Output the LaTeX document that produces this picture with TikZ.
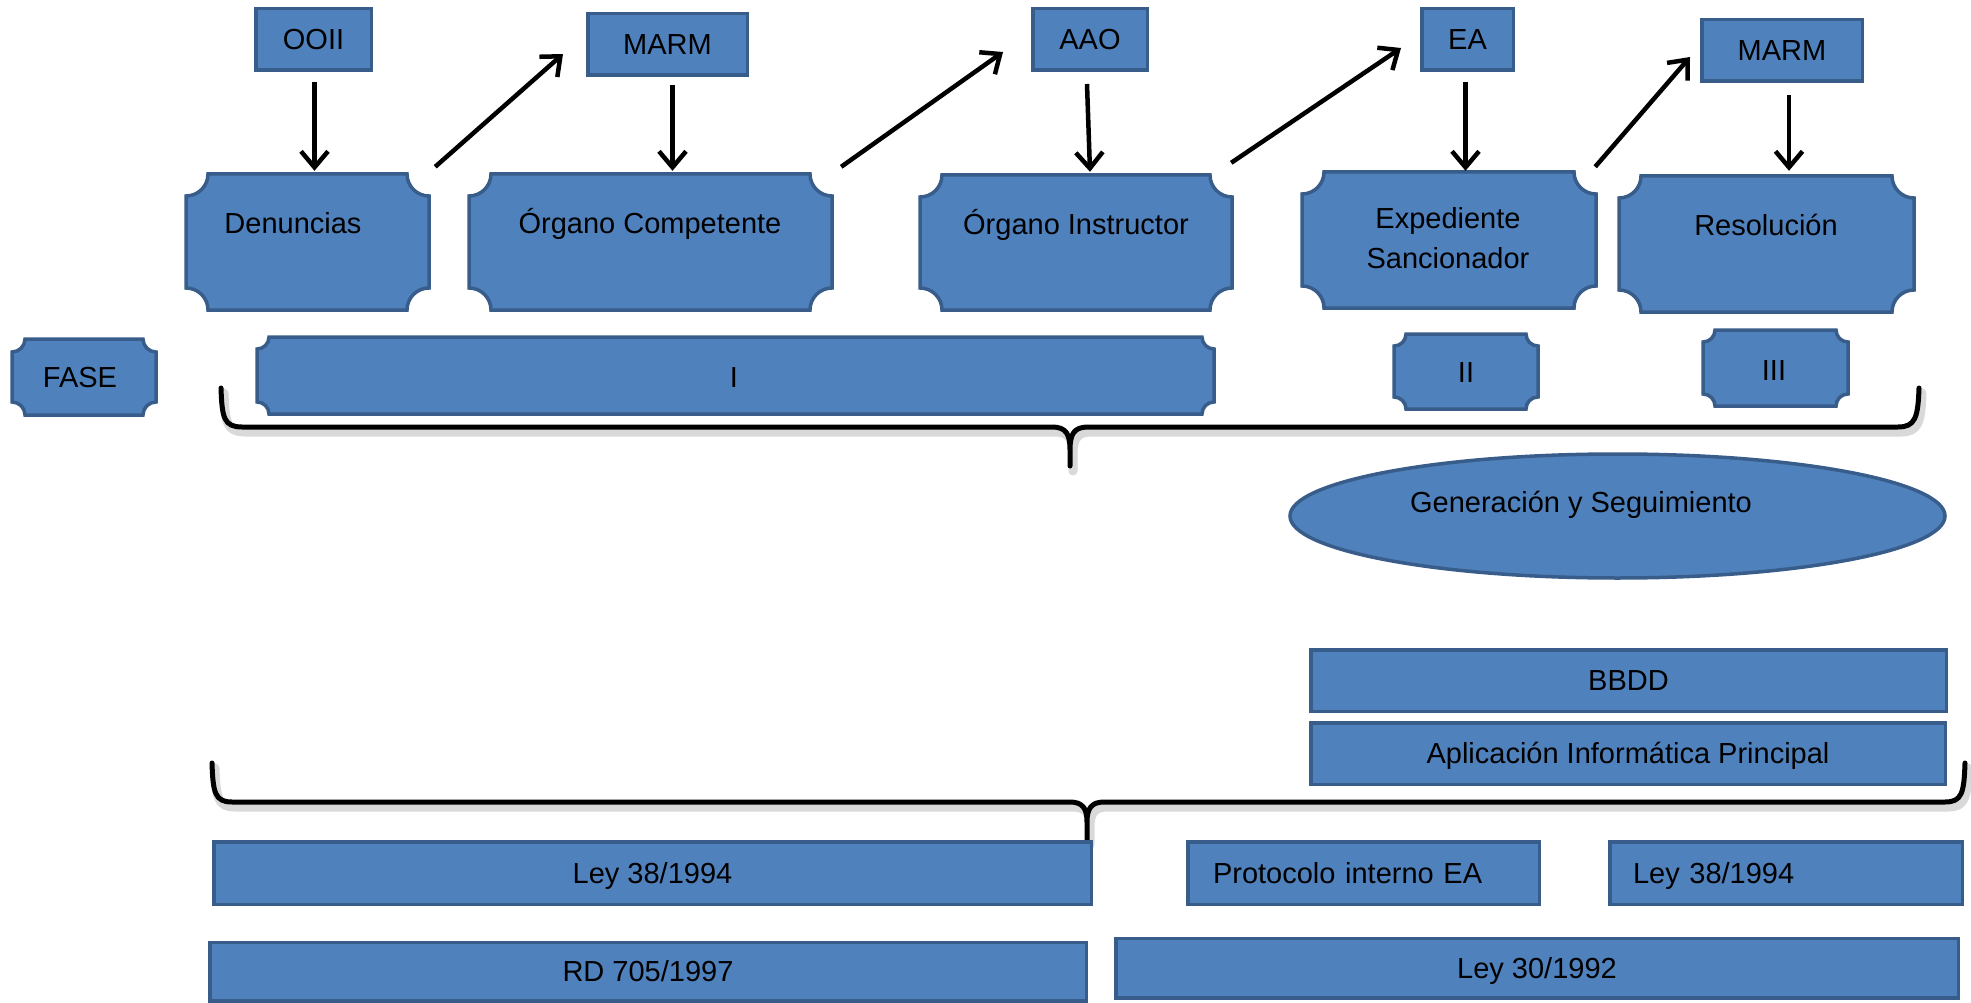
\documentclass[tikz,border=0pt]{standalone}
\usepackage{fontspec}
\setmainfont{Liberation Sans}
\usetikzlibrary{arrows.meta,calc,shapes.geometric}
\definecolor{boxfill}{HTML}{4F81BD}
\definecolor{boxline}{HTML}{385D8A}

% plaque: rectangle with concave quarter-circle corners
% #1 name, #2 x1, #3 y1, #4 x2, #5 y2, #6 notch radius
\newcommand\plaquebox[6]{%
  \path[plq] (#2+#6,#3) -- (#4-#6,#3) arc[start angle=180,end angle=90,radius=#6]
    -- (#4,#5-#6) arc[start angle=270,end angle=180,radius=#6]
    -- (#2+#6,#5) arc[start angle=0,end angle=-90,radius=#6]
    -- (#2,#3+#6) arc[start angle=90,end angle=0,radius=#6] -- cycle;
  \node[anchorbox, minimum width={#4-#2}, minimum height={#5-#3}] (#1) at ({(#2+#4)/2},{(#3+#5)/2}) {};
}

\begin{document}
\begin{tikzpicture}[x=1pt,y=-1pt,
  every node/.style={font=\fontsize{29}{40}\selectfont, text=black},
  rbox/.style={rectangle, draw=boxline, fill=boxfill, line width=3.5pt, inner sep=0pt,
               text height=20.8pt, text depth=0pt},
  plq/.style={draw=boxline, fill=boxfill, line width=3.5pt},
  anchorbox/.style={rectangle, draw=none, inner sep=0pt},
  txt/.style={inner sep=0pt, anchor=base, align=center},
  conn/.style={draw=black, line width=4.5pt, -{Straight Barb[length=16pt,width=27pt]}},
  brace/.style={draw=black, line width=5pt, line join=round, line cap=round},
  braceshade/.style={draw=black!15, line width=9pt, line join=round, line cap=round}]

\useasboundingbox (0,0) rectangle (1971,1003);

% ---- actors on top ----
\node[rbox, minimum width=115.5pt, minimum height=61.5pt] (ooii)  at (313.5,39.5) {OOII};
\node[rbox, minimum width=159.5pt, minimum height=61.5pt] (marm1) at (667.5,44.5) {MARM};
\node[rbox, minimum width=114.5pt, minimum height=61.5pt] (aao)   at (1090,39.5) {AAO};
\node[rbox, minimum width=91.5pt,  minimum height=61.5pt] (ea)    at (1467.5,39.5) {EA};
\node[rbox, minimum width=160.5pt, minimum height=61.5pt] (marm2) at (1782,50.5) {MARM};

% ---- process steps ----
\plaquebox{den}{186}{174}{429}{310}{22}
\plaquebox{oc}{469}{174}{832}{310}{22}
\plaquebox{oi}{920}{175}{1232}{310}{22}
\plaquebox{exp}{1302}{172}{1596}{308}{22}
\plaquebox{res}{1619}{176}{1914}{312}{22}
\node[txt] (den-t) at (293,234) {Denuncias};
\node[txt] (oc-t)  at (650,234) {Órgano Competente};
\node[txt] (oi-t)  at (1076,235) {Órgano Instructor};
\node[txt] (exp-t) at (1448,269) {Expediente\\Sancionador};
\node[txt] (res-t) at (1766,236) {Resolución};

% ---- phases ----
\plaquebox{fase}{12}{339}{156}{415}{13}
\plaquebox{f1}{257}{337}{1214}{414}{12}
\plaquebox{f2}{1394}{334}{1538}{409}{12}
\plaquebox{f3}{1703}{330}{1848}{406}{12}
\node[txt] (fase-t) at (80,387) {FASE};
\node[txt] (f1-t)   at (734,387) {I};
\node[txt] (f2-t)   at (1466,382) {II};
\node[txt] (f3-t)   at (1774,380) {III};

% ---- flow arrows ----
\draw[conn] ($(ooii.south)+(1,10)$) -- ($(ooii.south |- den.north)+(1,-3)$);
\draw[conn] ($(marm1.south)+(5,8)$) -- ($(marm1.south |- oc.north)+(5,-3)$);
\draw[conn] ($(aao.south)+(-3,12)$) -- ($(aao.south |- oi.north)+(0,-3)$);
\draw[conn] ($(ea.south)+(-2,10)$) -- ($(ea.south |- exp.north)+(-2,-1)$);
\draw[conn] ($(marm2.south)+(7,12)$) -- ($(marm2.south |- res.north)+(7,-5)$);
\draw[conn] ($(den.north east)+(6,-7)$) -- ($(marm1.west)+(-23,9.5)$);
\draw[conn] ($(oc.north east)+(9,-7)$) -- ($(aao.west)+(-28,12.5)$);
\draw[conn] ($(oi.north east)+(-1,-12)$) -- ($(ea.west)+(-19,8.5)$);
\draw[conn] ($(exp.north east)+(-1,-5)$) -- ($(marm2.west)+(-10,6.5)$);

% ---- upper brace ----
\begin{scope}[shift={(3,5)}]
\draw[braceshade] (221,388) .. controls (222,418) and (224,427) .. (242,427) -- (1052,427)
  .. controls (1066,427) and (1070,434) .. (1070,450) -- (1070,466) -- (1070,450)
  .. controls (1070,434) and (1074,427) .. (1088,427) -- (1898,427)
  .. controls (1915,427) and (1918,418) .. (1919,388);
\end{scope}
\draw[brace] (221,388) .. controls (222,418) and (224,427) .. (242,427) -- (1052,427)
  .. controls (1066,427) and (1070,434) .. (1070,450) -- (1070,466) -- (1070,450)
  .. controls (1070,434) and (1074,427) .. (1088,427) -- (1898,427)
  .. controls (1915,427) and (1918,418) .. (1919,388);

% ---- system ----
\node[ellipse, draw=boxline, fill=boxfill, line width=3.5pt, inner sep=0pt,
      minimum width=655pt, minimum height=124pt] (gen) at (1617.5,516) {};
\node[txt] (gen-t) at (1581,512) {Generación y Seguimiento};
\node[rbox, minimum width=635.5pt, minimum height=61.5pt] (bbdd) at (1628.5,680.5) {BBDD};
\node[rbox, minimum width=634.5pt, minimum height=61.5pt] (apl)  at (1628,753.5) {Aplicación Informática Principal};

% ---- lower brace ----
\begin{scope}[shift={(3,5)}]
\draw[braceshade] (212,763) .. controls (213,793) and (215,802) .. (232,802) -- (1070,802)
  .. controls (1083,802) and (1087,809) .. (1087,822) -- (1087,840) -- (1087,822)
  .. controls (1087,809) and (1091,802) .. (1104,802) -- (1945,802)
  .. controls (1962,802) and (1964,793) .. (1965,763);
\end{scope}
\draw[brace] (212,763) .. controls (213,793) and (215,802) .. (232,802) -- (1070,802)
  .. controls (1083,802) and (1087,809) .. (1087,822) -- (1087,840) -- (1087,822)
  .. controls (1087,809) and (1091,802) .. (1104,802) -- (1945,802)
  .. controls (1962,802) and (1964,793) .. (1965,763);

% ---- legal framework ----
\node[rbox, minimum width=877.5pt, minimum height=62.5pt] (ley38a) at (652.5,873) {Ley 38/1994};
\node[rbox, minimum width=351.5pt, minimum height=62.5pt, inner xsep=25.25pt,
      text width=301pt, align=left] (prot) at (1363.5,873) {Protocolo interno EA};
\node[rbox, minimum width=352.5pt, minimum height=62.5pt, inner xsep=23.25pt,
      text width=306pt, align=left] (ley38b) at (1786,873) {Ley 38/1994};
\node[rbox, minimum width=876.5pt, minimum height=58.5pt] (rd) at (648,971.5) {RD 705/1997};
\node[rbox, minimum width=842.5pt, minimum height=59.5pt] (ley30) at (1537,968) {Ley 30/1992};

\end{tikzpicture}
\end{document}
